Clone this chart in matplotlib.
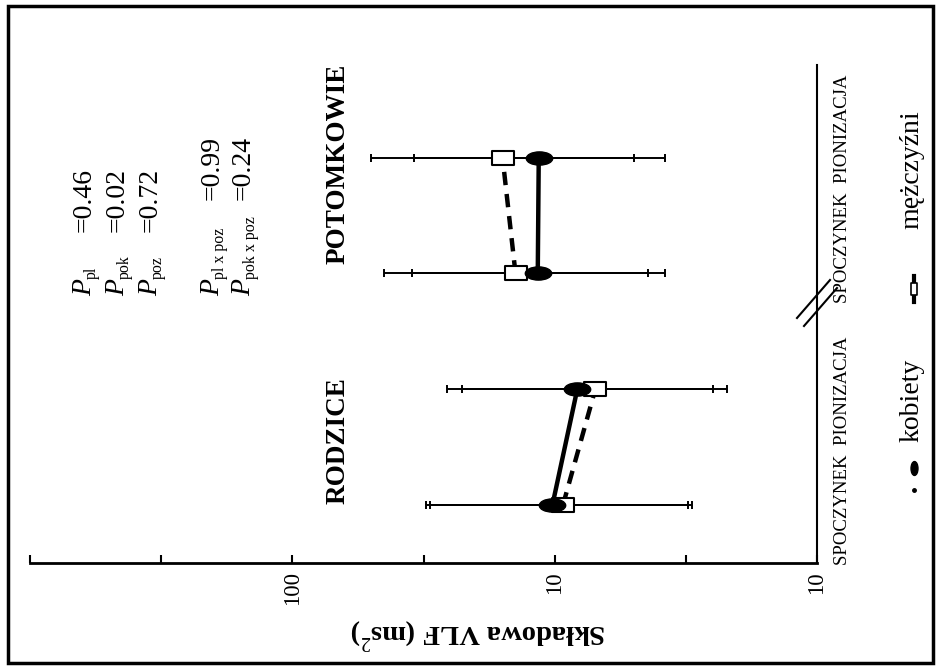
import numpy as np
import matplotlib
matplotlib.use('Agg')
import matplotlib.pyplot as plt
from matplotlib.path import Path
from matplotlib.patches import Rectangle

plt.rcParams['font.family'] = ['Liberation Serif', 'DejaVu Serif']
plt.rcParams['mathtext.fontset'] = 'custom'
plt.rcParams['mathtext.rm'] = 'Liberation Serif'

# dane: kolejnosc = RODZICE spoczynek, RODZICE pionizacja, POTOMKOWIE spoczynek, POTOMKOWIE pionizacja
groups = ['RODZICE', 'POTOMKOWIE']
cond_label = 'SPOCZYNEK  PIONIZACJA'
positions = [0, 1, 2, 3]
kob_mean = [10.2, 8.2, 11.6, 11.5]
kob_hi = [31.0, 25.8, 35.1, 34.5]
kob_lo = [3.0, 2.5, 3.8, 3.8]
men_mean = [9.3, 7.0, 14.1, 15.8]
men_hi = [30.0, 22.6, 44.8, 50.2]
men_lo = [3.1, 2.2, 4.4, 5.0]
val_ticks = [1000, 100, 10, 1]
val_ticklabels = ['', '100', '10', '10']
p_main = [('pl', '0.46'), ('pok', '0.02'), ('poz', '0.72')]
p_inter = [('pl x poz', '0.99'), ('pok x poz', '0.24')]

W, H = 939, 671
fig = plt.figure(figsize=(W / 100, H / 100), dpi=100)


def fx(px):
    return px / W


def fy(py):
    return (H - py) / H


# ramka wokol calego rysunku
fig.patches.append(Rectangle((fx(8), fy(663)), 925 / W, 657 / H, transform=fig.transFigure,
                             fill=False, lw=2.5, ec='black'))

# wykres obrocony o 90 stopni: os wartosci pozioma (rosnie w lewo), kategorie pionowo
ax = fig.add_axes([fx(30), fy(563), (817 - 30) / W, (563 - 65) / H])
ax.set_xscale('log')
ax.set_xlim(1000, 1)
ax.set_ylim(-0.5, 3.8)
for s in ['top', 'left']:
    ax.spines[s].set_visible(False)
ax.spines['bottom'].set_linewidth(2)
ax.spines['right'].set_linewidth(1.5)

ax.set_xticks(val_ticks)
ax.set_xticklabels(val_ticklabels, rotation=90, fontsize=16.5, va='top', ha='center')
ax.set_xticks([10 ** 2.5, 10 ** 1.5, 10 ** 0.5], minor=True)
ax.xaxis.set_minor_formatter(matplotlib.ticker.NullFormatter())
ax.tick_params(axis='x', which='both', direction='in', length=6, width=1.5, pad=6)
ax.set_yticks([])
ax.set_xlabel('Składowa VLF (ms$^2$)', fontsize=20.5, fontweight='bold', rotation=180)
ax.xaxis.set_label_coords(0.57, -0.105)

pos = np.array(positions)
km, mm = np.array(kob_mean), np.array(men_mean)
ax.errorbar(mm, pos, xerr=[mm - np.array(men_lo), np.array(men_hi) - mm], fmt='none',
            ecolor='black', elinewidth=1.4, capsize=3, capthick=1.4, zorder=2)
ax.errorbar(km, pos, xerr=[km - np.array(kob_lo), np.array(kob_hi) - km], fmt='none',
            ecolor='black', elinewidth=1.4, capsize=3, capthick=1.4, zorder=2)

for g in range(2):
    sl = slice(2 * g, 2 * g + 2)
    ax.plot(mm[sl], pos[sl], color='black', lw=3.2, ls=(0, (3, 2)), zorder=3)
    ax.plot(km[sl], pos[sl], color='black', lw=3.2, zorder=3)

circ = Path.unit_circle()
ell = Path(circ.vertices * [1.0, 0.5], circ.codes)
ell_v = Path(circ.vertices * [0.5, 1.0], circ.codes)
rect = Path([(-1, -0.6), (1, -0.6), (1, 0.6), (-1, 0.6), (-1, -0.6)],
            [Path.MOVETO, Path.LINETO, Path.LINETO, Path.LINETO, Path.CLOSEPOLY])
rect_v = Path([(-0.6, -1), (0.6, -1), (0.6, 1), (-0.6, 1), (-0.6, -1)],
              [Path.MOVETO, Path.LINETO, Path.LINETO, Path.LINETO, Path.CLOSEPOLY])
ax.plot(mm, pos, ls='none', marker=rect, ms=16.5, mfc='white', mec='black', mew=1.5, zorder=4)
ax.plot(km, pos, ls='none', marker=ell, ms=19, mfc='black', mec='black', zorder=5)

# etykiety grup
ax.text(67, 0.56, groups[0], rotation=90, fontsize=19.5, fontweight='bold', ha='center', va='center')
ax.text(67, 2.95, groups[1], rotation=90, fontsize=19.5, fontweight='bold', ha='center', va='center')

# etykiety warunkow przy osi kategorii
for ystart in [565, 303]:
    fig.text(fx(847), fy(ystart), cond_label, rotation=90, rotation_mode='anchor',
             ha='left', va='baseline', fontsize=13.5)

# znak przerwania osi
for dx, dy in [(0, 0), (7, 8)]:
    fig.lines.append(plt.Line2D([fx(797 + dx), fx(830 + dx)], [fy(318 + dy), fy(280 + dy)],
                                transform=fig.transFigure, color='black', lw=1.5))


# wartosci p
def ptext(xc, yb, sub, val, yval):
    xb = xc + 9
    kw = dict(rotation=90, rotation_mode='anchor', ha='left', va='baseline')
    fig.text(fx(xb), fy(yb), 'P', style='italic', fontsize=20, **kw)
    fig.text(fx(xb + 5), fy(yb - 17), sub, fontsize=11.5, **kw)
    fig.text(fx(xb), fy(yval), '=' + val, fontsize=20, **kw)


for i, (sub, val) in enumerate(p_main):
    ptext(82 + 33 * i, 296, sub, val, 232)
for i, (sub, val) in enumerate(p_inter):
    ptext(210 + 31 * i, 296, sub, val, 200)

# legenda
fig.text(fx(912), fy(400), 'kobiety', rotation=90, ha='center', va='center', fontsize=20)
fig.text(fx(912), fy(170), 'mężczyźni', rotation=90, ha='center', va='center', fontsize=20)
fig.lines.append(plt.Line2D([fx(914)], [fy(468)], transform=fig.transFigure,
                            ls='none', marker=ell_v, ms=10, mfc='black', mec='black'))
fig.lines.append(plt.Line2D([fx(914)], [fy(490)], transform=fig.transFigure,
                            ls='none', marker='o', ms=2.5, mfc='black', mec='black'))
fig.lines.append(plt.Line2D([fx(914), fx(914)], [fy(302), fy(276)], transform=fig.transFigure,
                            color='black', lw=3))
fig.lines.append(plt.Line2D([fx(914)], [fy(289)], transform=fig.transFigure,
                            ls='none', marker=rect_v, ms=8, mfc='white', mec='black', mew=1.2))

fig.savefig('out.png', dpi=100)
